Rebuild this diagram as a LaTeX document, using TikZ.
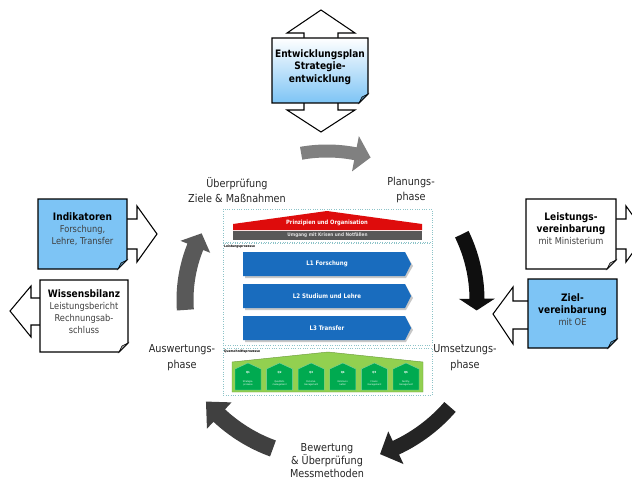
\documentclass[tikz,border=0pt]{standalone}
\usepackage{fontspec}
\setmainfont{DejaVu Sans}[FakeStretch=0.88]
\usetikzlibrary{calc}

\definecolor{noteblue}{RGB}{125,196,245}
\definecolor{procblue}{RGB}{25,108,190}
\definecolor{roofred}{RGB}{222,12,12}
\definecolor{bargrey}{RGB}{88,88,88}
\definecolor{lightgreen}{RGB}{146,208,80}
\definecolor{housegreen}{RGB}{0,170,80}
\definecolor{frameteal}{RGB}{140,195,200}

% note paper with folded corner: x1,y1,x2,y2,fill options,flap colour
\newcommand\notepaper[6]{%
  \path[#5] (#1,#2) -- (#3,#2) -- (#3,#4-9) -- (#3-9,#4) -- (#1,#4) -- cycle;
  \draw[line width=1.2pt] (#1,#2) -- (#3,#2) -- (#3,#4-9) -- (#3-9,#4) -- (#1,#4) -- cycle;
  \filldraw[fill=#6, line width=0.7pt] (#3,#4-9) -- (#3-9,#4) -- (#3-6,#4-6) -- cycle;
}
% curved cycle arrow round (C): colour,R,start,head base,tip,width,head width
\newcommand\cyclearrow[7]{%
  \fill[#1] ($(C)+({#3}:{#2+#6/2})$) arc[start angle=#3, end angle=#4, radius=#2+#6/2]
    -- ($(C)+({#4}:{#2+#7/2})$) -- ($(C)+({#5}:{#2})$) -- ($(C)+({#4}:{#2-#7/2})$)
    -- ($(C)+({#4}:{#2-#6/2})$) arc[start angle=#4, end angle=#3, radius=#2-#6/2] -- cycle;
}
\newcommand\notetitle[1]{{\fontsize{11.7}{13.6}\selectfont\bfseries\color{black}#1}}

\begin{document}
\begin{tikzpicture}[x=0.04cm,y=-0.04cm,line join=miter,
  phase label/.style={align=center,text=black!85,font=\fontsize{12.5}{18}\selectfont},
  note text/.style={align=center,text=black!75,font=\fontsize{10.7}{13.6}\selectfont},
  block arrow/.style={draw,fill=white,line width=1.2pt},
  frame/.style={draw=frameteal,dotted,line width=0.7pt,fill=white},
  tiny label/.style={anchor=west,inner sep=0pt,font=\fontsize{3.8}{4}\selectfont\bfseries},
  proc text/.style={text=white,font=\fontsize{7.1}{8}\selectfont\bfseries},
  house label/.style={text=white,inner sep=0pt,font=\fontsize{3.2}{3.5}\selectfont\bfseries},
  house text/.style={text=white,inner sep=0pt,align=center,font=\fontsize{2.7}{3.2}\selectfont}]
  \useasboundingbox (0,0) rectangle (632,479);
  \coordinate (C) at (327,300);

  % cycle arrows
  \cyclearrow{black!50}{149}{260}{281}{287}{13}{36}
  \cyclearrow{black!94}{150}{334}{359.5}{364}{15}{36}
  \cyclearrow{black!86}{163}{41}{65}{71}{15}{36}
  \cyclearrow{black!75}{158}{110}{133}{140}{17}{36}
  \cyclearrow{black!65}{142}{176}{202}{208}{17}{32}

  % block arrows
  \path[block arrow] (304,40) -- (304,33) -- (287,33) -- (321,10) -- (355,33) -- (338,33)
    -- (338,110) -- (355,110) -- (321,132) -- (287,110) -- (304,110) -- cycle;
  \path[block arrow] (120,219) -- (137,219) -- (137,206) -- (157,234) -- (137,262) -- (137,249) -- (120,249) -- cycle;
  \path[block arrow] (48,298) -- (31,298) -- (31,286) -- (10,311) -- (31,337) -- (31,325) -- (48,325) -- cycle;
  \path[block arrow] (610,219) -- (626,219) -- (626,206) -- (646,234) -- (626,262) -- (626,249) -- (610,249) -- cycle;
  \path[block arrow] (535,301) -- (513,301) -- (513,287) -- (493,314) -- (513,344) -- (513,329) -- (535,329) -- cycle;

  % notes
  \notepaper{272}{38}{368}{103}{top color=white,bottom color=noteblue}{noteblue!65!black}
  \notepaper{38}{199}{127}{269}{fill=noteblue}{noteblue!65!black}
  \notepaper{40}{280}{128}{352}{fill=white}{black!35}
  \notepaper{526}{199}{616}{269}{fill=white}{black!35}
  \notepaper{528}{279}{617}{348}{fill=noteblue}{noteblue!65!black}

  \node[align=center,font=\fontsize{11.7}{14.2}\selectfont\bfseries] (plan) at (320,67) {Entwicklungsplan\\Strategie-\\entwicklung};
  \node[note text] (indik) at (82.5,229) {\notetitle{Indikatoren}\\Forschung,\\Lehre, Transfer};
  \node[note text] (bilanz) at (84,311.5) {\notetitle{Wissensbilanz}\\Leistungsbericht\\Rechnungsab-\\schluss};
  \node[note text] (lv) at (571,229) {\notetitle{Leistungs-}\\\notetitle{vereinbarung}\\mit Ministerium};
  \node[note text] (zv) at (572.5,310) {\notetitle{Ziel-}\\\notetitle{vereinbarung}\\mit OE};

  % phase labels
  \node[phase label] (review) at (237,190) {Überprüfung\\Ziele \& Maßnahmen};
  \node[phase label] (planphase) at (411,190) {Planungs-\\phase};
  \node[phase label] (evalphase) at (182,358) {Auswertungs-\\phase};
  \node[phase label] (implphase) at (465,358) {Umsetzungs-\\phase};
  \node[phase label,font=\fontsize{12.5}{14.5}\selectfont] (assess) at (327,460.5) {Bewertung\\\& Überprüfung\\Messmethoden};

  % process house
  \path[frame] (223,209) rectangle (432,242);
  \path[frame] (223,243) rectangle (432,345);
  \path[frame] (223,348) rectangle (432,395);
  \fill[roofred] (233,230) -- (233,224) -- (327,211) -- (422,224) -- (422,230) -- cycle;
  \node[text=white,font=\fontsize{6.7}{7}\selectfont\bfseries] (roof) at (327,222.5) {Prinzipien und Organisation};
  \fill[bargrey] (233,231) rectangle (422,240);
  \node[text=black!12,font=\fontsize{5.5}{6}\selectfont\bfseries] (crisis) at (327.5,235.5) {Umgang mit Krisen und Notfällen};
  \node[tiny label] (lproc) at (224,247) {Leistungsprozesse};
  \foreach \y/\t [count=\i] in {252/L1 Forschung,284/L2 Studium und Lehre,316/L3 Transfer} {
    \fill[black!22] (245,\y+2) -- (406,\y+2) -- (413,\y+14) -- (406,\y+26) -- (245,\y+26) -- cycle;
    \fill[procblue] (243,\y) -- (405,\y) -- (411,\y+12) -- (405,\y+24) -- (243,\y+24) -- cycle;
    \node[proc text] (l\i) at (327,\y+12) {\t};
  }
  \node[tiny label] (qproc) at (224,352) {Querschnittsprozesse};
  \filldraw[fill=lightgreen,draw=lightgreen!75!black,line width=0.5pt] (232,392) -- (232,362) -- (328,352) -- (423,362) -- (423,392) -- cycle;
  \foreach \d [count=\i] in {{Strategie-\\prozesse},{Qualitäts-\\management},{Personal-\\management},{Kommuni-\\kation},{Finanz-\\management},{Facility-\\management}} {
    \pgfmathsetmacro\hx{235+(\i-1)*31.6}
    \filldraw[fill=housegreen,draw=housegreen!50!white,line width=0.4pt] (\hx,390) -- (\hx,369) -- (\hx+13,363) -- (\hx+26,369) -- (\hx+26,390) -- cycle;
    \node[house label] (q\i) at (\hx+13,372.5) {Q\i};
    \node[house text] (qt\i) at (\hx+13,383) {\d};
  }
\end{tikzpicture}
\end{document}
